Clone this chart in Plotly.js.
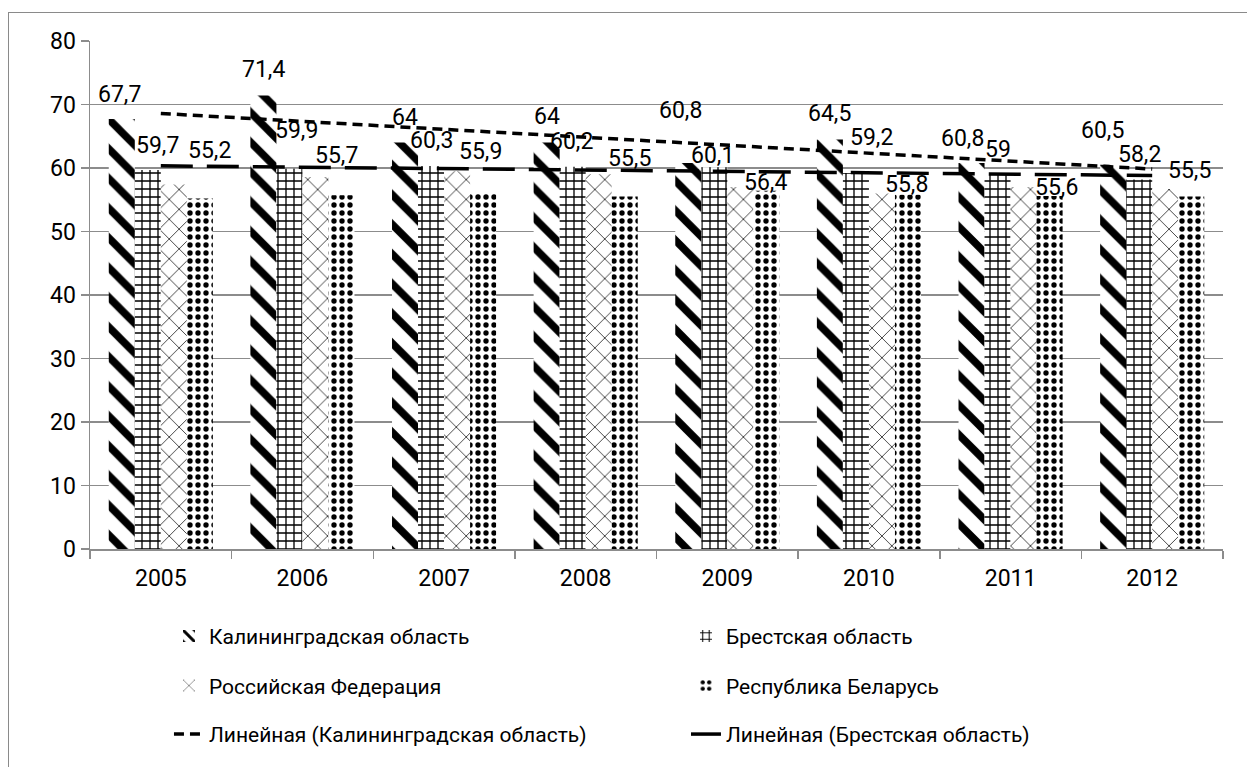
<!DOCTYPE html>
<html>
<head>
<meta charset="utf-8">
<script src="https://cdn.plot.ly/plotly-3.0.1.min.js"></script>
<style>
  html, body { margin: 0; padding: 0; background: #fff; }
  #frame { position: absolute; left: 8px; top: 12px; width: 1300px; height: 800px;
           border-left: 1.5px solid #8a8a8a; border-top: 1.5px solid #8a8a8a; }
  #chart { position: absolute; left: 0; top: 0; width: 1247px; height: 767px; }
</style>
</head>
<body>
<div id="frame"></div>
<div id="chart"></div>
<script>
// ---- data ----
const years = ['2005', '2006', '2007', '2008', '2009', '2010', '2011', '2012'];
const kaliningrad = [67.7, 71.4, 64, 64, 60.8, 64.5, 60.8, 60.5];
const brest       = [59.7, 59.9, 60.3, 60.2, 60.1, 59.2, 59, 58.2];
const russia      = [57.4, 58.6, 59.5, 59.0, 57.0, 56.0, 57.0, 56.7];
const belarus     = [55.2, 55.7, 55.9, 55.5, 56.4, 55.8, 55.6, 55.5];

const names = {
  kal: 'Калининградская область',
  bre: 'Брестская область',
  rus: 'Российская Федерация',
  bel: 'Республика Беларусь',
  trKal: 'Линейная (Калининградская область)',
  trBre: 'Линейная (Брестская область)'
};

// ---- linear trend (least squares, as the spreadsheet's "linear" trendline) ----
function linearTrend(vals) {
  const n = vals.length;
  const xs = vals.map((_, i) => i + 1);
  const mx = xs.reduce((a, b) => a + b, 0) / n;
  const my = vals.reduce((a, b) => a + b, 0) / n;
  let sxy = 0, sxx = 0;
  for (let i = 0; i < n; i++) { sxy += (xs[i] - mx) * (vals[i] - my); sxx += (xs[i] - mx) ** 2; }
  const b = sxy / sxx;
  return xs.map(x => my + b * (x - mx));
}

// ---- styling ----
const FONT = 'Roboto, "Noto Sans", sans-serif';
const FS = 23;       // numbers (ticks, data labels)
const FS_LEG = 21;   // legend text
const GRID = '#8c8c8c';

function barTrace(y, name, shape, size, solidity, legend) {
  return {
    type: 'bar', x: years, y: y, name: name, legend: legend,
    marker: { color: 'white', line: { width: 0 },
      pattern: { shape: shape, size: size, solidity: solidity, fgcolor: 'black', bgcolor: 'white', fillmode: 'replace' } },
    hoverinfo: 'x+y'
  };
}

const traces = [
  barTrace(kaliningrad, names.kal, '\\', 21, 0.36, 'legend'),
  barTrace(brest, names.bre, '+', 8, 0.3, 'legend'),
  barTrace(russia, names.rus, 'x', 14, 0.1, 'legend2'),
  barTrace(belarus, names.bel, '.', 8, 0.35, 'legend2'),
  { type: 'scatter', mode: 'lines', x: years, y: linearTrend(kaliningrad), name: names.trKal, legend: 'legend3',
    line: { color: 'black', width: 3.5, dash: '10px,6px' } },
  { type: 'scatter', mode: 'lines', x: years, y: linearTrend(brest), name: names.trBre, legend: 'legend3',
    line: { color: 'black', width: 3.5, dash: '32px,14px' } }
];

// ---- data labels (pixel nudges relative to each bar top) ----
const barOffset = { kal: -39, bre: -13, bel: 39 };
const nudgeKal = [[-2, 25], [0, 26], [0, 25], [0, 26], [-8, 52], [0, 26], [-9, 24], [-11, 34]];
const nudgeBre = [[10, 24], [7, 38], [0, 26], [-1, 25], [-2, 12], [16, 36], [0, 25], [0, 25]];
const nudgeBel = [[10, 48], [-5, 40], [-3, 43], [5, 38], [-1, 8], [-1, 10], [7, 8], [-2, 26]];

function fmt(v) { return String(v).replace('.', ','); }
const annotations = [];
function addLabels(vals, off, nudges) {
  vals.forEach((v, i) => {
    annotations.push({
      xref: 'x', yref: 'y', x: i, y: v, text: fmt(v), showarrow: false,
      xanchor: 'center', yanchor: 'middle',
      xshift: off + nudges[i][0], yshift: nudges[i][1],
      font: { family: FONT, size: FS, color: 'black' }
    });
  });
}
addLabels(kaliningrad, barOffset.kal, nudgeKal);
addLabels(brest, barOffset.bre, nudgeBre);
addLabels(belarus, barOffset.bel, nudgeBel);

function legendAt(y) {
  return { orientation: 'h', x: 0.0697, xanchor: 'left', y: y, yanchor: 'middle',
    entrywidth: 472, entrywidthmode: 'pixels', bgcolor: 'rgba(0,0,0,0)',
    font: { family: FONT, size: FS_LEG, color: 'black' }, traceorder: 'normal' };
}

const layout = {
  width: 1247, height: 767,
  margin: { l: 90, r: 24, t: 41, b: 214, pad: 0 },
  paper_bgcolor: 'rgba(0,0,0,0)', plot_bgcolor: 'rgba(0,0,0,0)',
  font: { family: FONT, size: FS, color: 'black' },
  barmode: 'group', bargap: 0.265, bargroupgap: 0,
  showlegend: true,
  xaxis: { type: 'category', showgrid: false, showline: true, linecolor: GRID, linewidth: 1.5,
    ticks: 'outside', tickson: 'boundaries', ticklen: 8, tickcolor: GRID, tickwidth: 1.5,
    ticklabelstandoff: 8,
    tickfont: { family: FONT, size: FS, color: 'black' } },
  yaxis: { range: [0, 80], dtick: 10, showgrid: true, gridcolor: GRID, gridwidth: 1.2,
    zeroline: false, showline: true, linecolor: GRID, linewidth: 1.5,
    ticks: 'outside', ticklen: 8, tickcolor: GRID, tickwidth: 1.5,
    tickfont: { family: FONT, size: FS, color: 'black' } },
  legend: legendAt(-0.172),
  legend2: legendAt(-0.2695),
  legend3: legendAt(-0.365),
  annotations: annotations
};

Plotly.newPlot('chart', traces, layout, { displayModeBar: false, staticPlot: true });
</script>
</body>
</html>
